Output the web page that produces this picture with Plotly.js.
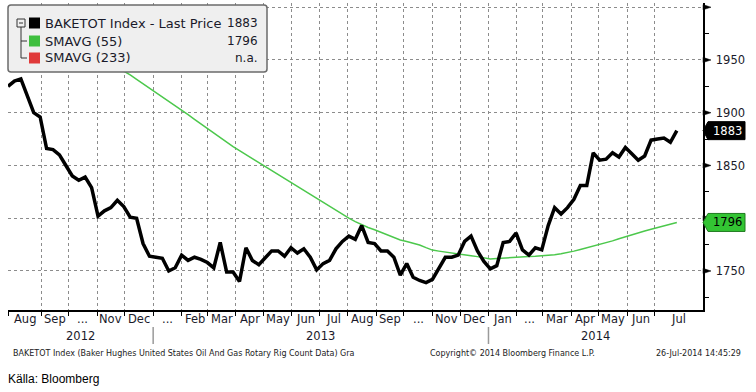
<!DOCTYPE html>
<html>
<head>
<meta charset="utf-8">
<script src="https://cdn.plot.ly/plotly-3.0.1.min.js"></script>
<style>html,body{margin:0;padding:0;background:#fff;}#chart{width:756px;height:392px;}</style>
</head>
<body>
<div id="chart"></div>
<script>
// ---- DATA ----
const firstWeek = '2012-07-27';           // weekly data (Fridays)
const rigCount = [1925,1930,1932,1916,1900,1896,1866,1865,1860,1850,
  1840,1836,1839,1829,1802,1807,1810,1817,1811,1801,
  1800,1776,1764,1763,1762,1750,1753,1765,1760,1763,
  1761,1758,1753,1777,1749,1749,1740,1772,1760,1756,
  1763,1769,1769,1764,1772,1767,1771,1763,1751,1757,
  1760,1771,1778,1783,1780,1793,1777,1776,1769,1769,
  1763,1746,1757,1744,1741,1739,1742,1752,1763,1763,
  1765,1778,1783,1769,1759,1752,1755,1777,1778,1786,
  1770,1765,1772,1770,1793,1810,1804,1810,1818,1831,
  1831,1862,1855,1856,1862,1858,1867,1861,1855,1859,
  1874,1875,1876,1872,1883];
const sma55 = [1980.3,1979.4,1978.4,1976.8,1976.0,1974.6,1973.2,1971.4,1969.2,1967.0,
  1964.7,1962.6,1959.9,1956.6,1952.9,1949.5,1946.4,1943.0,1939.6,1935.8,
  1931.7,1927.6,1923.5,1919.3,1915.1,1911.0,1906.7,1902.3,1898.1,1893.7,
  1889.3,1885.1,1880.8,1876.5,1872.2,1867.9,1864.1,1860.3,1856.5,1852.8,
  1849.0,1845.2,1841.4,1837.6,1833.7,1829.8,1826.0,1822.1,1818.2,1814.5,
  1810.8,1806.9,1803.1,1800.0,1796.7,1793.6,1791.2,1789.0,1786.6,1784.1,
  1781.7,1779.3,1778.0,1776.6,1774.6,1772.1,1769.8,1768.8,1767.8,1766.9,
  1765.9,1765.2,1764.4,1763.6,1762.5,1761.4,1761.8,1762.3,1762.7,1763.0,
  1763.3,1763.6,1763.9,1764.2,1764.6,1765.4,1766.3,1767.3,1768.8,1770.3,
  1771.8,1773.4,1775.0,1776.6,1778.5,1780.6,1782.6,1784.4,1786.2,1787.9,
  1789.6,1791.3,1792.9,1794.6,1796.0];
const seriesNames = ['BAKETOT Index - Last Price','SMAVG (55)','SMAVG (233)'];
const seriesColors = ['#000000','#3fbf3f','#e03a3a'];
const sma233Text = 'n.a.';
const xRange = ['2012-07-27','2014-08-22 12:00'];
const monthBoundaries = ['2012-09-01','2012-10-01','2012-11-01','2012-12-01','2013-01-01','2013-02-01',
  '2013-03-01','2013-04-01','2013-05-01','2013-06-01','2013-07-01','2013-08-01','2013-09-01','2013-10-01',
  '2013-11-01','2013-12-01','2014-01-01','2014-02-01','2014-03-01','2014-04-01','2014-05-01','2014-06-01','2014-07-01'];
const monthLabels = ['Aug','Sep','...','Nov','Dec','...','Feb','Mar','Apr','May','Jun','Jul','Aug','Sep','...',
  'Nov','Dec','Jan','...','Mar','Apr','May','Jun','Jul'];
const yearBoundaries = ['2013-01-01','2014-01-01'];
const yearLabels = ['2012','2013','2014'];
const yTickVals = [1750,1800,1850,1900,1950,2000];
const yTickText = ['1750','','1850','1900','1950',''];
const yMinorVals = [1725,1775,1825,1875,1925,1975];
const yRange = [1713,2004];
const footerLeft = 'BAKETOT Index (Baker Hughes United States Oil And Gas Rotary Rig Count Data) Gra';
const footerMid = 'Copyright\u00A9 2014 Bloomberg Finance L.P.';
const footerRight = '26-Jul-2014 14:45:29';
const sourceText = 'Källa: Bloomberg';

// ---- geometry helpers ----
const M = {l:8, r:53, t:3, b:82};
const PW = 756 - M.l - M.r, PH = 392 - M.t - M.b;
const px = p => (p - M.l) / PW;          // pixel x -> paper
const py = p => (M.t + PH - p) / PH;      // pixel y -> paper
const unitsPerPx = (yRange[1] - yRange[0]) / PH;

const DAY = 86400000;
const dates = rigCount.map((_, i) => new Date(Date.parse(firstWeek) + i * 7 * DAY).toISOString().slice(0,10));
const toMs = d => Date.parse(d.replace(' ', 'T') + (d.length > 10 ? 'Z' : ''));
const msToStr = ms => new Date(ms).toISOString().replace('T',' ').slice(0,19);

const FONT = 'DejaVu Sans, Verdana, sans-serif';

const traces = [
  {x: dates, y: sma55, type:'scatter', mode:'lines', line:{color:'#4cc84c', width:1.5}, hoverinfo:'skip'},
  {x: dates, y: rigCount, type:'scatter', mode:'lines', line:{color:'#000', width:3.5}, hoverinfo:'skip'}
];

const shapes = [];
const annotations = [];

// month ticks / gridlines
const gridTicks = [xRange[0]].concat(monthBoundaries);

// month labels centred in visible part of each month
const bAll = [toMs(xRange[0])].concat(monthBoundaries.map(toMs)).concat([toMs(xRange[1])]);
monthLabels.forEach((lab, i) => {
  const mid = (bAll[i] + bAll[i+1]) / 2;
  annotations.push({x: msToStr(mid), xref:'x', y: py(319), yref:'paper', text: lab, showarrow:false,
    xanchor:'center', yanchor:'middle', font:{family:FONT, size:11.5, color:'#1a1a2a'}});
});
const yb = [toMs(xRange[0])].concat(yearBoundaries.map(toMs)).concat([toMs(xRange[1])]);
yearLabels.forEach((lab, i) => {
  const mid = (yb[i] + yb[i+1]) / 2;
  annotations.push({x: msToStr(mid), xref:'x', y: py(336), yref:'paper', text: lab, showarrow:false,
    xanchor:'center', yanchor:'middle', font:{family:FONT, size:11.5, color:'#1a1a2a'}});
});
yearBoundaries.forEach(d => {
  shapes.push({type:'line', xref:'x', yref:'paper', x0:d, x1:d, y0:py(327), y1:py(344),
    line:{color:'#9a9a9a', width:1.5}});
});

// right-axis major tick triangles
yTickVals.forEach(v => {
  const h = 2.6 * unitsPerPx;
  shapes.push({type:'path', xref:'paper', yref:'y', layer:'above',
    path:`M 1,${v-h} L ${1+8/PW},${v} L 1,${v+h} Z`, fillcolor:'#000', line:{color:'#000', width:0.5}});
});

// last-value tags
function tag(v, fill, border, txtColor) {
  const h = 9 * unitsPerPx;
  const x0 = 1, x1 = 1 + 5/PW, x2 = 1 + 42/PW;
  shapes.push({type:'path', xref:'paper', yref:'y', layer:'above',
    path:`M ${x0},${v} L ${x1},${v-h} L ${x2},${v-h} L ${x2},${v+h} L ${x1},${v+h} Z`,
    fillcolor:fill, line:{color:border, width:1}});
  annotations.push({x: 1 + 24/PW, xref:'paper', y: v, yref:'y', text: String(Math.round(v)), showarrow:false,
    xanchor:'center', yanchor:'middle', font:{family:FONT, size:11.5, color:txtColor}});
}
const lastPrice = rigCount[rigCount.length-1];
const lastSma = sma55[sma55.length-1];
tag(lastPrice, '#000', '#000', '#fff');
tag(lastSma, '#33c433', '#1f7a1f', '#000');

// legend box (rounded)
(function(){
  const L=8, R=267, T=5, B=72, r=3;
  const p = `M ${px(L+r)},${py(T)} L ${px(R-r)},${py(T)} Q ${px(R)},${py(T)} ${px(R)},${py(T+r)} ` +
    `L ${px(R)},${py(B-r)} Q ${px(R)},${py(B)} ${px(R-r)},${py(B)} L ${px(L+r)},${py(B)} ` +
    `Q ${px(L)},${py(B)} ${px(L)},${py(B-r)} L ${px(L)},${py(T+r)} Q ${px(L)},${py(T)} ${px(L+r)},${py(T)} Z`;
  shapes.push({type:'path', xref:'paper', yref:'paper', layer:'above', path:p,
    fillcolor:'#efefef', line:{color:'#6b6b6b', width:1.5}});
  // tree glyph
  const lc = {color:'#333', width:1};
  shapes.push({type:'rect', xref:'paper', yref:'paper', layer:'above', x0:px(17), x1:px(25), y0:py(27), y1:py(19), line:lc, fillcolor:'#efefef'});
  shapes.push({type:'line', xref:'paper', yref:'paper', layer:'above', x0:px(19), x1:px(23), y0:py(23), y1:py(23), line:lc});
  shapes.push({type:'line', xref:'paper', yref:'paper', layer:'above', x0:px(21), x1:px(21), y0:py(27), y1:py(58), line:lc});
  shapes.push({type:'line', xref:'paper', yref:'paper', layer:'above', x0:px(21), x1:px(27), y0:py(41), y1:py(41), line:lc});
  shapes.push({type:'line', xref:'paper', yref:'paper', layer:'above', x0:px(21), x1:px(27), y0:py(58), y1:py(58), line:lc});
  const rowY = [23, 41, 58];
  const vals = [String(Math.round(lastPrice)), String(Math.round(lastSma)), sma233Text];
  rowY.forEach((y, i) => {
    shapes.push({type:'rect', xref:'paper', yref:'paper', layer:'above', x0:px(29), x1:px(40), y0:py(y+5.5), y1:py(y-5.5),
      fillcolor:seriesColors[i], line:{width:0}});
    annotations.push({x:px(43), xref:'paper', y:py(y), yref:'paper', text:seriesNames[i], showarrow:false,
      xanchor:'left', yanchor:'middle', font:{family:FONT, size:13, color:'#1a1a2a'}});
    annotations.push({x:px(260), xref:'paper', y:py(y), yref:'paper', text:vals[i], showarrow:false,
      xanchor:'right', yanchor:'middle', font:{family:FONT, size:12, color:'#1a1a2a'}});
  });
})();

// footer
annotations.push({x:px(11), xref:'paper', y:py(353.5), yref:'paper', text:footerLeft, showarrow:false,
  xanchor:'left', yanchor:'middle', font:{family:FONT, size:8, color:'#222'}});
annotations.push({x:px(428), xref:'paper', y:py(353.5), yref:'paper', text:footerMid, showarrow:false,
  xanchor:'left', yanchor:'middle', font:{family:FONT, size:8, color:'#222'}});
annotations.push({x:px(743), xref:'paper', y:py(353.5), yref:'paper', text:footerRight, showarrow:false,
  xanchor:'right', yanchor:'middle', font:{family:FONT, size:8, color:'#222'}});
annotations.push({x:px(6), xref:'paper', y:py(379), yref:'paper', text:sourceText, showarrow:false,
  xanchor:'left', yanchor:'middle', font:{family:'Liberation Sans, Arial, sans-serif', size:12, color:'#000'}});

const layout = {
  width:756, height:392,
  margin:M,
  paper_bgcolor:'#fff', plot_bgcolor:'#fff',
  showlegend:false,
  xaxis:{type:'date', range:xRange, tickmode:'array', tickvals:gridTicks, showticklabels:false,
    ticks:'outside', ticklen:4, tickcolor:'#000', tickwidth:1,
    showgrid:true, gridcolor:'#8c8c8c', griddash:'dot', gridwidth:1,
    showline:true, linecolor:'#000', linewidth:1.5, zeroline:false, fixedrange:true},
  yaxis:{side:'right', range:yRange, tickmode:'array', tickvals:yTickVals, ticktext:yTickText,
    ticks:'', ticklabelstandoff:9, tickfont:{family:FONT, size:11.5, color:'#1a1a2a'},
    showgrid:true, gridcolor:'#8c8c8c', griddash:'dot', gridwidth:1,
    showline:true, linecolor:'#000', linewidth:1.5, zeroline:false, fixedrange:true,
    minor:{tickvals:yMinorVals, ticks:'outside', ticklen:4, tickcolor:'#000', tickwidth:1, showgrid:false}},
  shapes:shapes,
  annotations:annotations
};

Plotly.newPlot('chart', traces, layout, {staticPlot:true, displayModeBar:false});
</script>
</body>
</html>
